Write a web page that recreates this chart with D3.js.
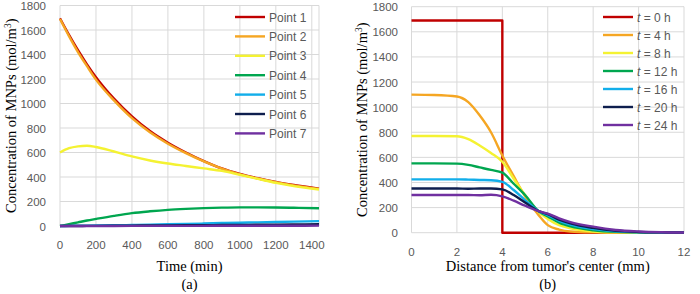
<!DOCTYPE html>
<html>
<head>
<meta charset="utf-8">
<script src="https://cdn.jsdelivr.net/npm/d3@7"></script>
<style>
  html, body { margin: 0; padding: 0; background: #fff; }
  svg { display: block; }
</style>
</head>
<body>
<div id="chart"></div>
<script>
// ---- data: panel (a), concentration vs time ----
const timeMin = [0, 50, 100, 150, 200, 300, 400, 500, 600, 700, 800, 900, 1000, 1100, 1200, 1300, 1440];
const point1 = [1695, 1560, 1435, 1320, 1215, 1040, 895, 775, 680, 600, 530, 470, 425, 390, 360, 335, 305];
const point2 = [1690, 1550, 1420, 1305, 1195, 1025, 880, 765, 672, 595, 527, 468, 422, 388, 358, 332, 303];
const point3 = [600, 635, 650, 655, 645, 608, 568, 535, 510, 490, 470, 450, 418, 385, 352, 326, 298];
const point4 = [0, 15, 30, 45, 58, 83, 105, 120, 132, 140, 146, 150, 152, 152, 151, 149, 145];
const point5 = [0, 1, 2, 3, 4, 6, 8, 11, 14, 17, 20, 24, 27, 30, 33, 36, 40];
const point6 = [0, 0, 0, 1, 1, 2, 3, 4, 5, 6, 7, 8, 9, 10, 11, 12, 14];
const point7 = [0, 0, 0, 0, 0, 0, 1, 1, 1, 1, 1, 2, 2, 2, 2, 2, 3];
const pointNames = ['Point 1', 'Point 2', 'Point 3', 'Point 4', 'Point 5', 'Point 6', 'Point 7'];

// ---- data: panel (b), concentration vs distance ----
const t0Dist = [0, 4, 4, 12];
const t0Conc = [1690, 1690, 0, 0];
const distMm = [0, 1, 2, 2.5, 3, 3.5, 4, 4.5, 5, 5.6, 6, 6.5, 7, 8, 9, 10, 11, 12];
const t4 = [1100, 1097, 1085, 1040, 935, 800, 615, 450, 290, 140, 60, 25, 10, 3, 1, 0, 0, 0];
const t8 = [770, 770, 768, 745, 695, 635, 565, 430, 300, 165, 110, 60, 35, 10, 3, 1, 0, 0];
const t12 = [552, 552, 550, 540, 520, 500, 478, 390, 300, 170, 130, 80, 50, 20, 7, 3, 1, 0];
const t16 = [425, 425, 425, 423, 420, 418, 405, 340, 260, 172, 140, 95, 65, 28, 11, 4, 2, 1];
const t20 = [352, 352, 352, 350, 352, 352, 345, 300, 240, 172, 148, 105, 75, 38, 15, 6, 3, 1];
const t24 = [300, 300, 300, 300, 298, 302, 290, 255, 215, 172, 152, 115, 85, 48, 22, 10, 4, 2];
const hourLabels = ['0', '4', '8', '12', '16', '20', '24'];

const colors = ['#C00000', '#F5A623', '#F4F232', '#00A64F', '#12AEEA', '#0E1E4E', '#7030A0'];

const yTicks = d3.range(0, 1801, 200);
const timeTicks = d3.range(0, 1401, 200);
const distTicks = d3.range(0, 13, 2);

const svg = d3.select('#chart').append('svg')
  .attr('width', 700).attr('height', 294);

const tickFont = '"Liberation Sans", Arial, sans-serif';
const serif = '"Liberation Serif", "Times New Roman", serif';
const gridColor = '#D9D9D9';

function drawPanel(opt) {
  const g = svg.append('g');
  const x = opt.x, y = opt.y;
  const [x0, x1] = x.range();
  const [y0, y1] = y.range();

  // grid
  g.selectAll('.hg').data(yTicks).join('line')
    .attr('x1', x0).attr('x2', x1)
    .attr('y1', d => y(d)).attr('y2', d => y(d))
    .attr('stroke', gridColor).attr('stroke-width', 1);
  g.selectAll('.vg').data(opt.xGrid).join('line')
    .attr('x1', d => x(d)).attr('x2', d => x(d))
    .attr('y1', y0).attr('y2', y1)
    .attr('stroke', gridColor).attr('stroke-width', 1);

  // tick labels
  g.selectAll('.yl').data(yTicks).join('text')
    .attr('x', opt.yLabelX).attr('y', d => y(d) + 4.5)
    .attr('text-anchor', 'end')
    .style('font-family', tickFont).style('font-size', '11.5px').style('fill', '#595959')
    .text(d => d);
  g.selectAll('.xl').data(opt.xTicks).join('text')
    .attr('x', d => x(d)).attr('y', y0 + 23)
    .attr('text-anchor', 'middle')
    .style('font-family', tickFont).style('font-size', '11.5px').style('fill', '#595959')
    .text(d => d);

  // titles
  const yt = g.append('text')
    .attr('transform', `translate(${opt.yTitleX},${(y0 + y1) / 2}) rotate(-90)`)
    .attr('text-anchor', 'middle')
    .style('font-family', serif).style('font-size', '14.5px').style('fill', '#000');
  yt.append('tspan').text('Concentration of MNPs (mol/m');
  yt.append('tspan').attr('dy', -5).style('font-size', '9.5px').text('3');
  yt.append('tspan').attr('dy', 5).text(')');

  g.append('text')
    .attr('x', (x0 + x1) / 2).attr('y', 271)
    .attr('text-anchor', 'middle')
    .style('font-family', serif).style('font-size', '14.5px')
    .text(opt.xTitle);
  g.append('text')
    .attr('x', (x0 + x1) / 2).attr('y', 289)
    .attr('text-anchor', 'middle')
    .style('font-family', serif).style('font-size', '14.5px')
    .text(opt.tag);

  // series
  opt.series.forEach((s, i) => {
    const line = d3.line()
      .x((d, j) => x(s.xs[j]))
      .y(d => y(d))
      .curve(s.curve || d3.curveMonotoneX);
    g.append('path')
      .attr('d', line(s.ys))
      .attr('fill', 'none')
      .attr('stroke', colors[i])
      .attr('stroke-width', 2.4)
      .attr('stroke-linejoin', 'round');
  });

  // legend
  const lg = g.append('g');
  opt.series.forEach((s, i) => {
    const ly = opt.legY + i * opt.legStep;
    lg.append('line')
      .attr('x1', opt.legX).attr('x2', opt.legX + 30)
      .attr('y1', ly).attr('y2', ly)
      .attr('stroke', colors[i]).attr('stroke-width', 2.4);
    const t = lg.append('text')
      .attr('x', opt.legX + 34).attr('y', ly + 4.5)
      .style('font-family', tickFont).style('font-size', '12px').style('fill', '#595959');
    s.label(t);
  });
}

// panel (a)
drawPanel({
  x: d3.scaleLinear().domain([0, 1440]).range([60, 319]),
  y: d3.scaleLinear().domain([0, 1800]).range([226, 5.5]),
  xTicks: timeTicks,
  xGrid: timeTicks.concat([1440]),
  yLabelX: 46,
  yTitleX: 16,
  xTitle: 'Time (min)',
  tag: '(a)',
  legX: 235, legY: 17, legStep: 19.4,
  series: [point1, point2, point3, point4, point5, point6, point7].map((ys, i) => ({
    xs: timeMin, ys: ys, label: t => t.text(pointNames[i])
  }))
});

// panel (b)
const distSeries = [t4, t8, t12, t16, t20, t24];
drawPanel({
  x: d3.scaleLinear().domain([0, 12]).range([411.5, 684]),
  y: d3.scaleLinear().domain([0, 1800]).range([232.7, 6.7]),
  xTicks: distTicks,
  xGrid: distTicks,
  yLabelX: 398,
  yTitleX: 367,
  xTitle: "Distance from tumor's center (mm)",
  tag: '(b)',
  legX: 603, legY: 17, legStep: 18,
  series: [{ xs: t0Dist, ys: t0Conc, curve: d3.curveLinear }]
    .concat(distSeries.map(ys => ({ xs: distMm, ys: ys })))
    .map((s, i) => Object.assign(s, {
      label: t => {
        t.append('tspan').style('font-style', 'italic').text('t');
        t.append('tspan').text(' = ' + hourLabels[i] + ' h');
      }
    }))
});
</script>
</body>
</html>
